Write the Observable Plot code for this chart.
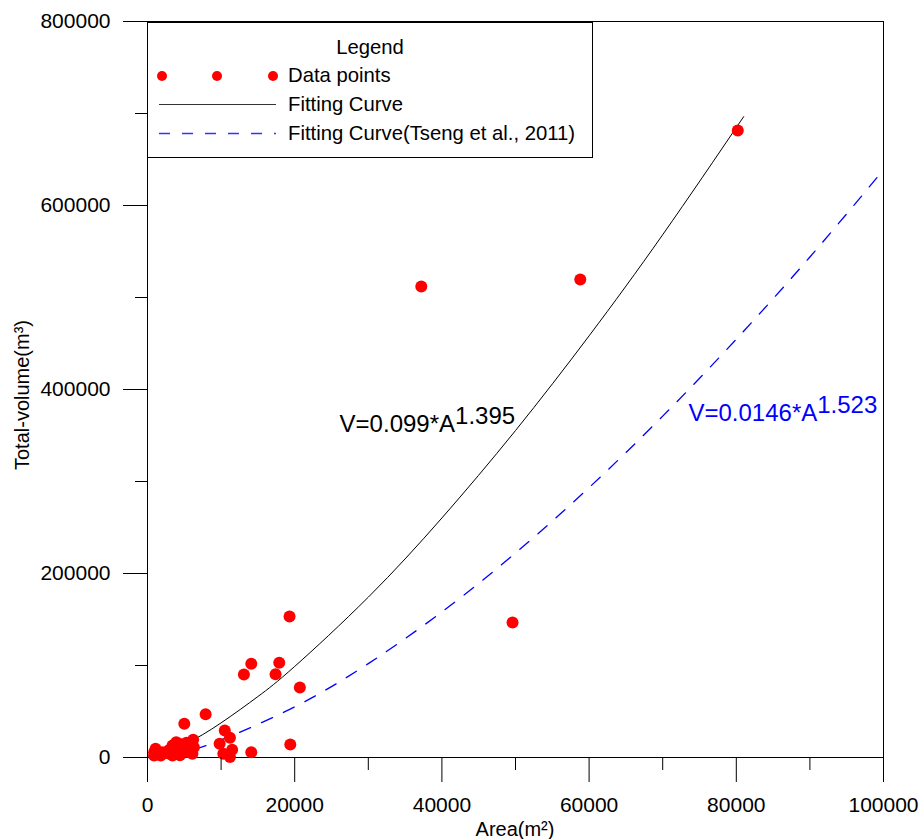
<!DOCTYPE html>
<html>
<head>
<meta charset="utf-8">
<script src="https://cdn.jsdelivr.net/npm/d3@7"></script>
<script src="https://cdn.jsdelivr.net/npm/@observablehq/plot@0.6"></script>
<style>
  html, body { margin: 0; padding: 0; background: #fff; }
  #chart { width: 919px; height: 839px; }
</style>
</head>
<body>
<div id="chart"></div>
<script>
// ---- Data ----
const pointArea = [80200, 58800, 37200, 49600, 19300, 14100, 13100, 17900, 17400, 20700,
  7900, 5000, 10500, 11200, 9800, 19400, 11500, 14100, 10300, 11200,
  6200, 3900, 3400, 4300, 1100, 900, 2000, 2700, 3600, 5600,
  6100, 6300, 900, 1800, 3400, 4900, 5300, 2900, 4400];
const pointVolume = [681500, 519500, 512000, 146700, 153300, 101800, 90200, 102900, 90500, 76100,
  47000, 36600, 29300, 21400, 14900, 14100, 8400, 5800, 4000, 500,
  19200, 16600, 13000, 14900, 9500, 5800, 5800, 4700, 4000, 5800,
  4000, 11200, 2200, 2200, 2200, 7600, 16000, 8000, 2500];

// Fitting curve (V = 0.099*A^1.395) as drawn
const fitArea = [0, 5000, 10000, 15000, 20000, 30000, 40000, 50000, 60000, 70000, 81000];
const fitVolume = [0, 14312, 37638, 66265, 98989, 174265, 260331, 355381, 458306, 568248, 696567];

// Fitting curve (Tseng et al., 2011) as drawn
const tsengArea = [0, 5000, 10000, 20000, 30000, 40000, 50000, 60000, 70000, 80000, 90000, 100000];
const tsengVolume = [0, 6666, 19158, 55055, 102082, 158227, 222256, 293398, 371044, 454699, 544041, 638764];

const xMajorTicks = [0, 20000, 40000, 60000, 80000, 100000];
const xMinorTicks = [10000, 30000, 50000, 70000, 90000];
const yMajorTicks = [0, 200000, 400000, 600000, 800000];
const yMinorTicks = [100000, 300000, 500000, 700000];

const legendTitle = "Legend";
const legendLabels = ["Data points", "Fitting Curve", "Fitting Curve(Tseng et al., 2011)"];

const equationBase = ["V=0.099*A", "V=0.0146*A"];
const equationExponent = ["1.395", "1.523"];
const equationArea = [26100, 73500];
const equationVolume = [354000, 366000];

const xTitle = "Area(m²)";
const yTitle = "Total-volume(m³)";

// ---- Build tables ----
const points = pointArea.map((a, i) => ({a, v: pointVolume[i]}));
const fit = fitArea.map((a, i) => ({a, v: fitVolume[i]}));
const tseng = tsengArea.map((a, i) => ({a, v: tsengVolume[i]}));
const eqBlack = [{a: equationArea[0], v: equationVolume[0], t: equationBase[0]}];
const eqBlue = [{a: equationArea[1], v: equationVolume[1], t: equationBase[1]}];

const FONT = "'Liberation Sans', Arial, Helvetica, sans-serif";
const fmt = d3.format("d");

const chart = Plot.plot({
  width: 919,
  height: 839,
  marginLeft: 147,
  marginRight: 36,
  marginTop: 21,
  marginBottom: 82,
  style: {fontFamily: FONT, fontSize: "21px", color: "black", background: "white", overflow: "visible"},
  x: {domain: [0, 100000], label: null},
  y: {domain: [0, 800000], label: null},
  marks: [
    Plot.frame({stroke: "black", strokeWidth: 1}),
    Plot.line(tseng, {x: "a", y: "v", stroke: "#0000ff", strokeWidth: 1.3, strokeDasharray: "12,12", curve: "natural"}),
    Plot.line(fit, {x: "a", y: "v", stroke: "black", strokeWidth: 1, curve: "natural"}),
    Plot.dot(points, {x: "a", y: "v", r: 6, fill: "#ff0000", stroke: "none"}),
    Plot.axisX({ticks: xMajorTicks, tickSize: 25, tickPadding: 15, tickFormat: fmt, fontSize: 21, stroke: "black", label: null}),
    Plot.axisX({ticks: xMinorTicks, tickSize: 13, tickFormat: () => "", stroke: "black", label: null}),
    Plot.axisY({ticks: yMajorTicks, tickSize: 24, tickPadding: 13, tickFormat: fmt, fontSize: 21, stroke: "black", label: null}),
    Plot.axisY({ticks: yMinorTicks, tickSize: 12, tickFormat: () => "", stroke: "black", label: null}),
    Plot.text(eqBlack, {x: "a", y: "v", text: "t", textAnchor: "start", lineAnchor: "bottom", fontSize: 24, fill: "black"}),
    Plot.text(eqBlue, {x: "a", y: "v", text: "t", textAnchor: "start", lineAnchor: "bottom", fontSize: 24, fill: "#0000ff"})
  ]
});

document.getElementById("chart").appendChild(chart);

const svg = d3.select(chart);

// Superscript exponents on the equations
svg.selectAll("text").filter(function () {
  return equationBase.includes(this.textContent);
}).each(function () {
  const i = equationBase.indexOf(this.textContent);
  d3.select(this).append("tspan").attr("dy", -8).text(equationExponent[i]);
});

// Axis titles
svg.append("text")
  .attr("x", 515).attr("y", 836)
  .attr("text-anchor", "middle")
  .attr("font-family", FONT).attr("font-size", 20).attr("fill", "black")
  .text(xTitle);
svg.append("text")
  .attr("transform", "translate(29,395) rotate(-90)")
  .attr("text-anchor", "middle")
  .attr("font-family", FONT).attr("font-size", 20).attr("fill", "black")
  .text(yTitle);

// Legend box
const lg = svg.append("g").attr("font-family", FONT).attr("font-size", 20.3).attr("fill", "black")
  .attr("text-anchor", "start");
lg.append("rect").attr("x", 147.5).attr("y", 22.5).attr("width", 445).attr("height", 135)
  .attr("fill", "white").attr("stroke", "black").attr("stroke-width", 1);
lg.append("text").attr("x", 370).attr("y", 54).attr("text-anchor", "middle").text(legendTitle);
[162, 217, 273].forEach(cx => lg.append("circle").attr("cx", cx).attr("cy", 76).attr("r", 5).attr("fill", "#ff0000"));
lg.append("text").attr("x", 288).attr("y", 82).attr("text-anchor", "start").text(legendLabels[0]);
lg.append("line").attr("x1", 159).attr("x2", 276).attr("y1", 104.5).attr("y2", 104.5)
  .attr("stroke", "#333").attr("stroke-width", 1);
lg.append("text").attr("x", 288).attr("y", 111).attr("text-anchor", "start").text(legendLabels[1]);
lg.append("line").attr("x1", 159).attr("x2", 276).attr("y1", 133.5).attr("y2", 133.5)
  .attr("stroke", "#3333ff").attr("stroke-width", 1.3).attr("stroke-dasharray", "11,12");
lg.append("text").attr("x", 288).attr("y", 140).attr("text-anchor", "start").text(legendLabels[2]);
</script>
</body>
</html>
